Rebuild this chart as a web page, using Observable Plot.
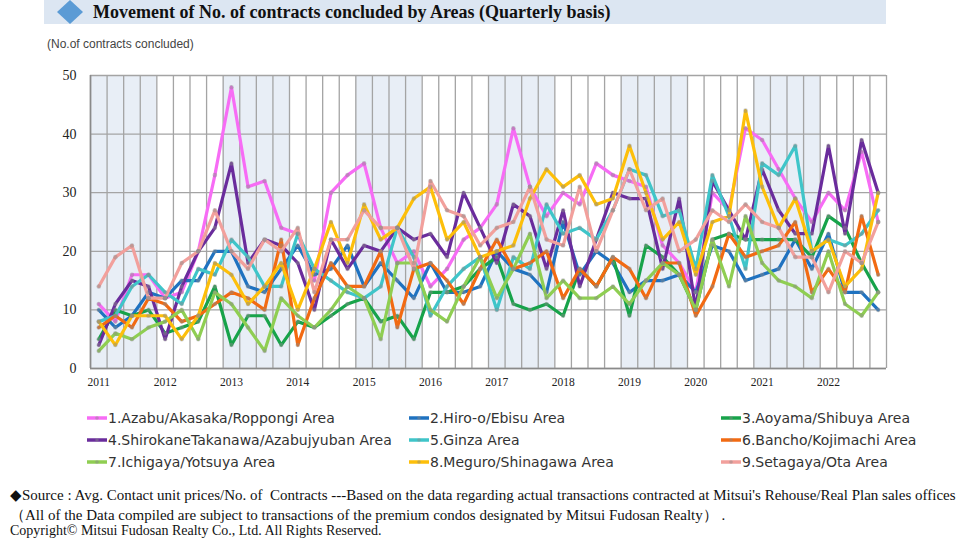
<!DOCTYPE html>
<html><head><meta charset="utf-8">
<script src="https://cdn.jsdelivr.net/npm/d3@7"></script>
<script src="https://cdn.jsdelivr.net/npm/@observablehq/plot@0.6"></script>
<style>
body{margin:0;background:#fff;}
#page{position:relative;width:969px;height:551px;overflow:hidden;}
#band{position:absolute;left:44px;top:0;width:842px;height:24px;background:#dce6f2;}
#diamond{position:absolute;left:56px;top:0;}
#title{position:absolute;left:93px;top:0;height:24px;line-height:25px;font-family:"Liberation Serif",serif;font-weight:bold;font-size:18px;color:#111;white-space:nowrap;}
#unit{position:absolute;left:47px;top:37px;font-family:"Liberation Sans",sans-serif;font-size:12px;color:#444;white-space:nowrap;}
#chart{position:absolute;left:0;top:0;}
.leg{position:absolute;height:18px;display:flex;align-items:center;white-space:nowrap;font-family:"DejaVu Sans",sans-serif;font-size:14px;color:#333;}
.leg svg{margin-right:1px;}
.foot{position:absolute;left:10px;font-family:"Liberation Serif",serif;font-size:15px;color:#111;white-space:nowrap;}
</style>
</head><body>
<div id="page">
  <div id="band"></div>
  <svg id="diamond" width="30" height="24"><polygon points="1,12 14,0 27,12 14,24" fill="#5b9bd5"/></svg>
  <div id="title">Movement of No. of contracts concluded by Areas (Quarterly basis)</div>
  <div id="unit">(No.of contracts concluded)</div>
  <div id="chart"></div>
  <div id="legend"></div>
  <div class="foot" style="top:486px;">◆Source : Avg. Contact unit prices/No. of&nbsp; Contracts ---Based on the data regarding actual transactions contracted at Mitsui's Rehouse/Real Plan sales offices</div>
  <div class="foot" style="top:506px;">（All of the Data compiled are subject to transactions of the premium condos designated by Mitsui Fudosan Realty）&nbsp;.</div>
  <div class="foot" style="top:523px;font-size:14px;">Copyright© Mitsui Fudosan Realty Co., Ltd. All Rights Reserved.</div>
</div>
<script>
// ---- data ----
const years = [2011, 2012, 2013, 2014, 2015, 2016, 2017, 2018, 2019, 2020, 2021, 2022];
const yTicks = [0, 10, 20, 30, 40, 50];
const seriesNames = [
  "1.Azabu/Akasaka/Roppongi Area",
  "2.Hiro-o/Ebisu Area",
  "3.Aoyama/Shibuya Area",
  "4.ShirokaneTakanawa/Azabujyuban Area",
  "5.Ginza Area",
  "6.Bancho/Kojimachi Area",
  "7.Ichigaya/Yotsuya Area",
  "8.Meguro/Shinagawa Area",
  "9.Setagaya/Ota Area"
];
const seriesColors = ["#f76cf5", "#1f72c0", "#17a34a", "#6a2c9c", "#3fc5c9", "#f26a12", "#8fce52", "#fdbf0a", "#f2a09c"];

const azabu = [11, 8, 16, 16, 12, 13, 20, 33, 48, 31, 32, 24, 23, 15, 30, 33, 35, 24, 18, 20, 14, 17, 22, 24, 28, 41, 31, 26, 30, 28, 35, 33, 32, 31, 21, 18, 13, 30, 27, 41, 39, 34, 29, 25, 30, 27, 37, 25];
const hiroo = [10, 7, 9, 13, 12, 15, 15, 20, 20, 14, 13, 17, 21, 16, 17, 21, 14, 18, 15, 12, 18, 13, 13, 14, 20, 17, 16, 13, 25, 16, 20, 18, 13, 15, 15, 16, 13, 21, 20, 15, 16, 17, 22, 17, 23, 13, 13, 10];
const aoyama = [5, 10, 9, 10, 6, 7, 8, 14, 4, 9, 9, 4, 8, 7, 9, 11, 12, 8, 9, 5, 13, 13, 14, 17, 19, 11, 10, 11, 9, 17, 14, 19, 9, 21, 19, 16, 10, 22, 23, 22, 22, 22, 22, 19, 26, 24, 18, 13];
const shirokane = [4, 11, 15, 14, 5, 14, 20, 24, 35, 18, 22, 21, 18, 10, 22, 17, 21, 20, 24, 22, 23, 19, 30, 24, 18, 28, 26, 17, 27, 14, 22, 30, 29, 29, 17, 29, 10, 32, 27, 22, 34, 27, 23, 23, 38, 23, 39, 30];
const ginza = [8, 9, 14, 16, 13, 11, 17, 16, 22, 19, 14, 14, 23, 17, 15, 13, 12, 14, 24, 19, 9, 14, 17, 19, 10, 19, 17, 28, 23, 24, 22, 27, 34, 33, 26, 27, 17, 33, 26, 17, 35, 33, 38, 20, 22, 21, 23, 27];
const bancho = [7, 9, 7, 12, 11, 8, 9, 11, 13, 12, 10, 22, 4, 12, 18, 14, 14, 20, 7, 17, 18, 15, 11, 17, 22, 17, 18, 20, 12, 17, 14, 19, 17, 12, 18, 18, 9, 14, 23, 19, 20, 21, 25, 13, 17, 13, 26, 16];
const ichigaya = [3, 6, 5, 7, 8, 10, 5, 13, 11, 7, 3, 12, 9, 7, 10, 14, 12, 5, 18, 18, 10, 8, 14, 19, 12, 17, 23, 12, 15, 12, 12, 14, 11, 15, 18, 16, 10, 22, 14, 26, 18, 15, 14, 12, 20, 11, 9, 13];
const meguro = [8, 4, 9, 9, 9, 5, 9, 18, 16, 11, 14, 18, 10, 17, 25, 18, 28, 22, 24, 29, 31, 22, 25, 19, 20, 21, 29, 34, 31, 33, 28, 29, 38, 30, 22, 25, 16, 25, 26, 44, 31, 24, 29, 20, 22, 14, 17, 30];
const setagaya = [14, 19, 21, 12, 12, 18, 20, 27, 20, 17, 22, 20, 24, 13, 22, 22, 27, 24, 24, 17, 32, 27, 26, 21, 24, 25, 31, 22, 21, 31, 20, 27, 34, 27, 29, 20, 22, 27, 25, 28, 25, 24, 19, 19, 13, 20, 18, 25];

const seriesValues = [azabu, hiroo, aoyama, shirokane, ginza, bancho, ichigaya, meguro, setagaya];

// ---- derived tables ----
const nQ = years.length * 4;
const rows = seriesNames.flatMap((name, s) => seriesValues[s].map((v, i) => ({name, q: i + 0.5, v})));
const shade = years.filter(y => y % 2 === 1).map(y => ({x1: (y - years[0]) * 4, x2: (y - years[0]) * 4 + 4}));
const bounds = d3.range(0, nQ + 1);
const yearTicks = years.map((y, k) => k * 4 + 0.5);

const chart = Plot.plot({
  width: 969, height: 400,
  marginLeft: 90, marginRight: 83, marginTop: 75, marginBottom: 32,
  style: {fontFamily: "'Liberation Serif', serif", background: "transparent", color: "#222"},
  x: {domain: [0, nQ], axis: null, label: null},
  y: {domain: [0, 50], axis: null, label: null},
  color: {domain: seriesNames, range: seriesColors},
  marks: [
    Plot.rect(shade, {x1: "x1", x2: "x2", y1: 0, y2: 50, fill: "#e8eef6"}),
    Plot.ruleX(bounds, {y1: 0, y2: 50, stroke: "#a4a4a4", strokeWidth: 1.3}),
    Plot.ruleY(yTicks, {stroke: "#a4a4a4", strokeWidth: 1.3}),
    Plot.ruleX([0], {y1: 0, y2: 50, stroke: "#8a8a8a", strokeWidth: 1.6}),
    Plot.ruleY([0], {stroke: "#8a8a8a", strokeWidth: 1.6}),
    Plot.line(rows, {x: "q", y: "v", z: "name", stroke: "name", strokeWidth: 3.2, strokeLinejoin: "round"}),
    Plot.dot(rows, {x: "q", y: "v", r: 2.3, fill: "#8a8a8a", fillOpacity: 0.45}),
    Plot.axisY(yTicks, {tickSize: 0, tickPadding: 14, fontSize: 14, label: null}),
    Plot.axisX(yearTicks, {tickSize: 0, tickPadding: 9, fontSize: 11.5, label: null, tickFormat: d => String(years[Math.round((d - 0.5) / 4)])})
  ]
});
document.getElementById("chart").appendChild(chart);

// ---- legend ----
const legend = document.getElementById("legend");
const colX = [87, 409, 721];
const rowY = [409, 431, 453];
seriesNames.forEach((name, i) => {
  const el = document.createElement("div");
  el.className = "leg";
  el.style.left = colX[i % 3] + "px";
  el.style.top = rowY[Math.floor(i / 3)] + "px";
  el.innerHTML = `<svg width="20" height="10"><line x1="0" y1="5" x2="20" y2="5" stroke="${seriesColors[i]}" stroke-width="3.5"/><circle cx="10" cy="5" r="1.8" fill="#8a8a8a" fill-opacity="0.45"/></svg><span></span>`;
  el.querySelector("span").textContent = name;
  legend.appendChild(el);
});
</script>
</body></html>
